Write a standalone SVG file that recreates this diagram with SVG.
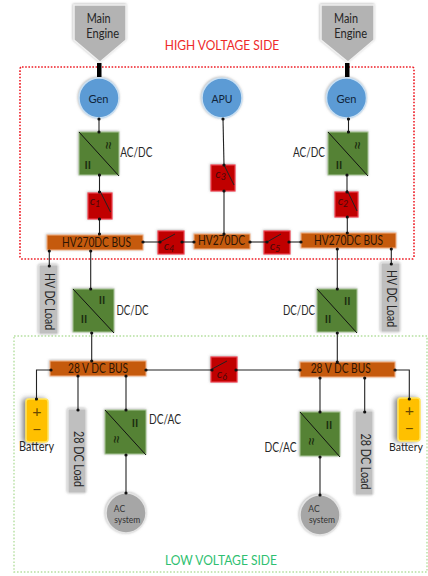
<svg xmlns="http://www.w3.org/2000/svg" width="428" height="576" viewBox="0 0 428 576">
<defs>
<style>
text{font-family:Lato,"Noto Sans","Liberation Sans",sans-serif;fill:#262626;text-anchor:middle}
.lbl{font-size:12.5px}
.bus{fill:#c55a11;stroke:#f4b183;stroke-width:1;filter:url(#sh)}
.bt{font-size:12.5px;fill:#2e1504}
.sw{fill:#c00000;stroke:#ef3f4f;stroke-width:1.2;filter:url(#sh)}
.swl{stroke:#222;stroke-width:1;fill:none}
.ct{font-size:12px;font-style:italic;fill:#4a0808}
.ct tspan{font-size:9px}
.conv{fill:#548235;stroke:#a9c598;stroke-width:1;filter:url(#sh)}
.diag{stroke:#111;stroke-width:1;fill:none}
.mark{font-size:11px;fill:#1c2e10;font-weight:bold}
.wave{font-size:17px;fill:#1c2e10;dominant-baseline:central}
.gen{fill:#5b9bd5;stroke:#c9dff2;stroke-width:1.5;filter:url(#sh)}
.gt{font-size:12px;fill:#10243a}
.eng{fill:#b3b3b3;stroke:#f0f0f0;stroke-width:1.5;filter:url(#sh)}
.load{fill:#bfbfbf;stroke:#e2e2e2;stroke-width:1.2;filter:url(#sh)}
.ac{fill:#a6a6a6;stroke:#e4e4e4;stroke-width:1.5;filter:url(#sh)}
.ac-t{font-size:8.5px;fill:#333}
.bat{fill:#ffc000;stroke:#ffe45c;stroke-width:1.5;filter:url(#bs)}
.pm{font-size:16px;fill:#6b4a00}
.c{stroke:#222;stroke-width:1.1;fill:none;marker-start:url(#dot);marker-end:url(#dot)}
.bar{fill:#000}
</style>
<marker id="dot" markerUnits="userSpaceOnUse" markerWidth="4" markerHeight="4" refX="2" refY="2"><circle cx="2" cy="2" r="1.6" fill="#111"/></marker>
<filter id="sh" x="-20%" y="-20%" width="140%" height="140%"><feDropShadow dx="-0.5" dy="-0.5" stdDeviation="0.8" flood-color="#777" flood-opacity="0.55"/></filter>
<filter id="bs" x="-60%" y="-20%" width="180%" height="140%"><feDropShadow dx="-3" dy="0" stdDeviation="2.5" flood-color="#555" flood-opacity="0.7"/></filter>
</defs>

<g id="zones" fill="none">
<rect x="20" y="67" width="394" height="192" rx="2" stroke="#ee1c25" stroke-width="1.6" stroke-dasharray="1.6 1.6"/>
<rect x="14" y="336" width="413" height="236" stroke="#b5dfa0" stroke-width="1.4" stroke-dasharray="1.6 1.8"/>
<text x="222" y="50" font-size="13" textLength="114.500" lengthAdjust="spacingAndGlyphs" style="fill:#ee2a2a">HIGH VOLTAGE SIDE</text>
<text x="221" y="565" font-size="13" textLength="112" lengthAdjust="spacingAndGlyphs" style="fill:#2fbf71">LOW VOLTAGE SIDE</text>
</g>

<g id="engine-left"><path class="eng" d="M74 5H126V40L100 62L74 40Z"/><text x="98.700" y="23" font-size="12.500" textLength="24" lengthAdjust="spacingAndGlyphs">Main</text><text x="102.700" y="37.700" font-size="12.500" textLength="33" lengthAdjust="spacingAndGlyphs">Engine</text></g>
<g id="engine-right"><path class="eng" d="M321 5H374V40L348 62L321 40Z"/><text x="346" y="23" font-size="12.500" textLength="24" lengthAdjust="spacingAndGlyphs">Main</text><text x="350.700" y="37.700" font-size="12.500" textLength="33" lengthAdjust="spacingAndGlyphs">Engine</text></g>

<g id="gen-left"><circle class="gen" cx="99" cy="98" r="20"/><text class="gt" x="98.500" y="102.700" textLength="20" lengthAdjust="spacingAndGlyphs">Gen</text></g>
<g id="apu"><circle class="gen" cx="222" cy="98" r="20"/><text class="gt" x="222" y="102.700" textLength="21" lengthAdjust="spacingAndGlyphs">APU</text></g>
<g id="gen-right"><circle class="gen" cx="346.500" cy="98" r="20"/><text class="gt" x="346.500" y="102.700" textLength="20" lengthAdjust="spacingAndGlyphs">Gen</text></g>

<g id="acdc-left"><rect class="conv" x="79" y="132" width="40" height="43"/><path class="diag" d="M79 132L119 176"/><text class="wave" x="108.300" y="145.500" transform="rotate(90 108.300 145.500)">≈</text><text class="mark" x="87.700" y="168.500">II</text><text class="lbl" x="136.300" y="157" textLength="32" lengthAdjust="spacingAndGlyphs">AC/DC</text></g>
<g id="acdc-right"><rect class="conv" x="328" y="132" width="40" height="43"/><path class="diag" d="M328 132L368 176"/><text class="wave" x="357.700" y="145.500" transform="rotate(90 357.700 145.500)">≈</text><text class="mark" x="339" y="168.500">II</text><text class="lbl" x="309" y="157" textLength="32" lengthAdjust="spacingAndGlyphs">AC/DC</text></g>

<g id="c1"><rect class="sw" x="88" y="193" width="24" height="26"/><path class="swl" d="M100 191L110.500 212"/><text class="ct" x="95" y="205">c<tspan dy="2">1</tspan></text></g>
<g id="c2"><rect class="sw" x="335" y="192" width="23" height="25"/><path class="swl" d="M347 190L357 211"/><text class="ct" x="343" y="205">c<tspan dy="2">2</tspan></text></g>
<g id="c3"><rect class="sw" x="211" y="165" width="24" height="26"/><path class="swl" d="M224 165L234 185"/><text class="ct" x="220.700" y="178">c<tspan dy="2">3</tspan></text></g>
<g id="c4"><rect class="sw" x="158" y="231" width="26" height="23"/><path class="swl" d="M160 242L175 234"/><text class="ct" x="169" y="250">c<tspan dy="2">4</tspan></text></g>
<g id="c5"><rect class="sw" x="264" y="231" width="26" height="23"/><path class="swl" d="M267 242L281 234"/><text class="ct" x="275" y="250">c<tspan dy="2">5</tspan></text></g>
<g id="c6"><rect class="sw" x="211" y="357" width="26" height="25"/><path class="swl" d="M212 369L227 361"/><text class="ct" x="222" y="378">c<tspan dy="2">6</tspan></text></g>

<g id="hv-bus-left"><rect class="bus" x="47" y="235" width="96" height="15"/><text class="bt" x="96.500" y="246.700" textLength="69" lengthAdjust="spacingAndGlyphs">HV270DC BUS</text></g>
<g id="hv-center"><rect class="bus" x="194" y="234" width="56" height="15"/><text class="bt" x="221.500" y="245" textLength="47" lengthAdjust="spacingAndGlyphs">HV270DC</text></g>
<g id="hv-bus-right"><rect class="bus" x="301" y="233" width="95" height="15"/><text class="bt" x="348.500" y="244.500" textLength="69" lengthAdjust="spacingAndGlyphs">HV270DC BUS</text></g>

<g id="hv-load-left"><rect class="load" x="39" y="265" width="19" height="69" rx="1.500"/><text class="lbl" transform="translate(45 301.500) rotate(90)" textLength="57" lengthAdjust="spacingAndGlyphs">HV DC Load</text></g>
<g id="hv-load-right"><rect class="load" x="381" y="263" width="19" height="69" rx="1.500"/><text class="lbl" transform="translate(387 298.500) rotate(90)" textLength="57" lengthAdjust="spacingAndGlyphs">HV DC Load</text></g>

<g id="dcdc-left"><rect class="conv" x="73" y="289" width="41" height="43"/><path class="diag" d="M73 289L114 333"/><text class="mark" x="102" y="304">II</text><text class="mark" x="84" y="323">II</text><text class="lbl" x="132.500" y="315" textLength="32" lengthAdjust="spacingAndGlyphs">DC/DC</text></g>
<g id="dcdc-right"><rect class="conv" x="317" y="289" width="40" height="43"/><path class="diag" d="M317 289L357 333"/><text class="mark" x="347.300" y="305">II</text><text class="mark" x="328" y="323">II</text><text class="lbl" x="299" y="315" textLength="32" lengthAdjust="spacingAndGlyphs">DC/DC</text></g>

<g id="lv-bus-left"><rect class="bus" x="50" y="361" width="96" height="15"/><text class="bt" x="98" y="372.700" textLength="60" lengthAdjust="spacingAndGlyphs">28 V DC BUS</text></g>
<g id="lv-bus-right"><rect class="bus" x="300" y="362" width="95" height="15"/><text class="bt" x="340.700" y="373" textLength="60" lengthAdjust="spacingAndGlyphs">28 V DC BUS</text></g>

<g id="battery-left"><rect class="bat" x="26" y="399" width="22" height="43" rx="3"/><text class="pm" x="37" y="417">+</text><text class="pm" x="37" y="435">−</text><text class="lbl" x="36.500" y="451" textLength="35" lengthAdjust="spacingAndGlyphs">Battery</text></g>
<g id="battery-right"><rect class="bat" x="398" y="398" width="22" height="43" rx="3"/><text class="pm" x="409.500" y="416">+</text><text class="pm" x="409.500" y="434">−</text><text class="lbl" x="406" y="451" font-size="12" style="font-size:12px" textLength="34" lengthAdjust="spacingAndGlyphs">Battery</text></g>

<g id="dc-load-left"><rect class="load" x="68" y="409" width="18" height="84" rx="1.500"/><text class="lbl" transform="translate(73.500 459) rotate(90)" textLength="56" lengthAdjust="spacingAndGlyphs">28 DC Load</text></g>
<g id="dc-load-right"><rect class="load" x="355" y="411" width="18" height="84" rx="1.500"/><text class="lbl" transform="translate(361 461.500) rotate(90)" textLength="56" lengthAdjust="spacingAndGlyphs">28 DC Load</text></g>

<g id="dcac-left"><rect class="conv" x="105" y="410" width="41" height="44"/><path class="diag" d="M105 410L146 455"/><text class="mark" x="135" y="427">II</text><text class="wave" x="116.700" y="439.500" transform="rotate(90 116.700 439.500)">≈</text><text class="lbl" x="165" y="423.700" textLength="32" lengthAdjust="spacingAndGlyphs">DC/AC</text></g>
<g id="dcac-right"><rect class="conv" x="300" y="412" width="40" height="44"/><path class="diag" d="M300 412L340 457"/><text class="mark" x="329" y="428.500">II</text><text class="wave" x="311" y="441.500" transform="rotate(90 311 441.500)">≈</text><text class="lbl" x="280.500" y="452" textLength="32" lengthAdjust="spacingAndGlyphs">DC/AC</text></g>

<g id="ac-left"><circle class="ac" cx="126" cy="513" r="20"/><text class="ac-t" x="119.500" y="512">AC</text><text class="ac-t" x="127.300" y="523">system</text></g>
<g id="ac-right"><circle class="ac" cx="320" cy="515" r="20"/><text class="ac-t" x="314" y="512">AC</text><text class="ac-t" x="322" y="523">system</text></g>

<g id="connectors">
<rect class="bar" x="97" y="63" width="4.500" height="14"/>
<rect class="bar" x="345" y="63" width="4.500" height="14"/>
<path class="c" d="M99 119V132"/>
<path class="c" d="M99.500 175V192"/>
<path class="c" d="M99.500 219V234"/>
<path class="c" d="M223 119L224 165"/>
<path class="c" d="M224 191V234"/>
<path class="c" d="M348.500 119V132"/>
<path class="c" d="M347 175V192"/>
<path class="c" d="M347.300 217V233"/>
<path class="c" d="M143 242H160"/>
<path class="c" d="M182 242H194"/>
<path class="c" d="M250 242H267"/>
<path class="c" d="M289 242H301"/>
<path class="c" d="M49.300 251V266"/>
<path class="c" d="M90.700 251V289"/>
<path class="c" d="M337.300 249V289"/>
<path class="c" d="M391.300 249V264"/>
<path class="c" d="M91.700 333V361"/>
<path class="c" d="M337.300 333V362"/>
<path class="c" d="M146 370H212"/>
<path class="c" d="M236 370H300"/>
<path class="c" d="M51 370H36.500V399"/>
<path class="c" d="M395 370H409.300V399"/>
<path class="c" d="M78 376V410"/>
<path class="c" d="M126 376V410"/>
<path class="c" d="M320 378V412"/>
<path class="c" d="M364.700 378V412"/>
<path class="c" d="M126 455V493"/>
<path class="c" d="M320 457V495"/>
</g>
</svg>
